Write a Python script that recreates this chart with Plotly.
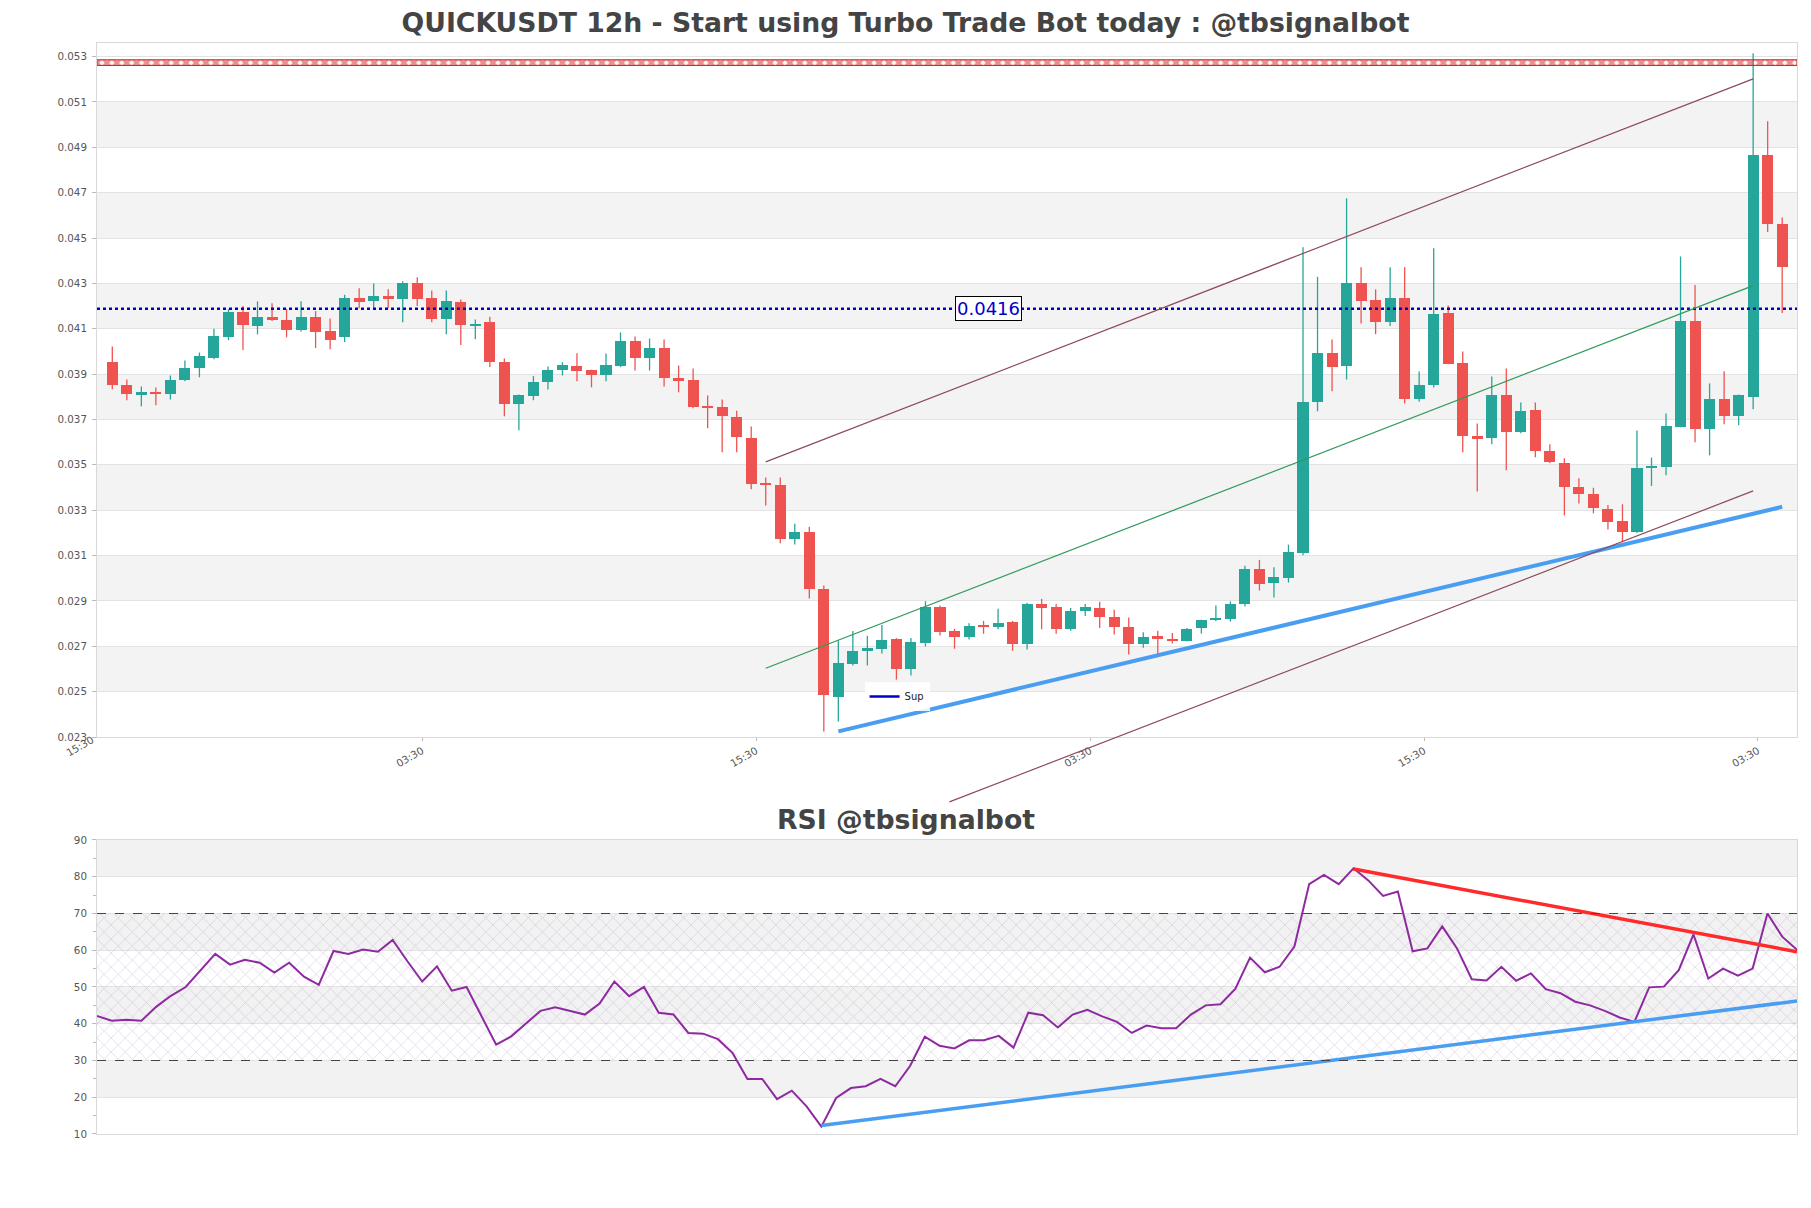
import pandas as pd
import plotly.graph_objects as go

# ---------------- data ----------------
open_ = [0.03954, 0.03854, 0.03811, 0.03822, 0.03811, 0.03873, 0.03926, 0.03973, 0.04063, 0.04173,
         0.04112, 0.04154, 0.04137, 0.04093, 0.04150, 0.04088, 0.04063, 0.04234, 0.04221, 0.04243,
         0.04231, 0.04300, 0.04234, 0.04143, 0.04216, 0.04116, 0.04128, 0.03954, 0.03770, 0.03803,
         0.03864, 0.03916, 0.03938, 0.03920, 0.03895, 0.03938, 0.04048, 0.03973, 0.04013, 0.03881,
         0.03872, 0.03761, 0.03753, 0.03713, 0.03620, 0.03421, 0.03413, 0.03171, 0.03205, 0.02953,
         0.02478, 0.02622, 0.02681, 0.02689, 0.02733, 0.02602, 0.02716, 0.02875, 0.02768, 0.02743,
         0.02796, 0.02783, 0.02808, 0.02708, 0.02887, 0.02874, 0.02778, 0.02856, 0.02870, 0.02830,
         0.02787, 0.02712, 0.02746, 0.02733, 0.02725, 0.02781, 0.02814, 0.02822, 0.02886, 0.03042,
         0.02977, 0.03003, 0.03112, 0.03775, 0.03991, 0.03935, 0.04300, 0.04225, 0.04128, 0.04234,
         0.03792, 0.03850, 0.04168, 0.03947, 0.03629, 0.03617, 0.03806, 0.03644, 0.03744, 0.03560,
         0.03510, 0.03404, 0.03373, 0.03307, 0.03251, 0.03202, 0.03489, 0.03489, 0.03666, 0.04134,
         0.03657, 0.03792, 0.03714, 0.03801, 0.04867, 0.04560]
high_ = [0.04022, 0.03876, 0.03845, 0.03841, 0.03894, 0.03960, 0.03995, 0.04100, 0.04187, 0.04200,
         0.04221, 0.04213, 0.04187, 0.04221, 0.04178, 0.04145, 0.04250, 0.04279, 0.04300, 0.04274,
         0.04310, 0.04327, 0.04269, 0.04269, 0.04229, 0.04141, 0.04153, 0.03969, 0.03810, 0.03892,
         0.03934, 0.03953, 0.03992, 0.03920, 0.03991, 0.04084, 0.04066, 0.04057, 0.04053, 0.03938,
         0.03925, 0.03806, 0.03788, 0.03739, 0.03669, 0.03444, 0.03444, 0.03240, 0.03227, 0.02968,
         0.02725, 0.02767, 0.02746, 0.02794, 0.02736, 0.02736, 0.02899, 0.02880, 0.02777, 0.02802,
         0.02812, 0.02865, 0.02812, 0.02892, 0.02909, 0.02886, 0.02869, 0.02886, 0.02896, 0.02861,
         0.02827, 0.02762, 0.02768, 0.02759, 0.02781, 0.02817, 0.02880, 0.02898, 0.03055, 0.03081,
         0.03049, 0.03148, 0.04459, 0.04329, 0.04053, 0.04675, 0.04371, 0.04274, 0.04371, 0.04371,
         0.03912, 0.04455, 0.04203, 0.04000, 0.03682, 0.03889, 0.03925, 0.03775, 0.03775, 0.03591,
         0.03529, 0.03441, 0.03399, 0.03323, 0.03326, 0.03651, 0.03532, 0.03726, 0.04419, 0.04293,
         0.03859, 0.03913, 0.03810, 0.05315, 0.05015, 0.04591]
low_ = [0.03833, 0.03785, 0.03758, 0.03763, 0.03788, 0.03869, 0.03886, 0.03966, 0.04050, 0.04006,
        0.04075, 0.04134, 0.04062, 0.04088, 0.04015, 0.04010, 0.04041, 0.04190, 0.04185, 0.04190,
        0.04129, 0.04200, 0.04129, 0.04076, 0.04028, 0.04054, 0.03931, 0.03714, 0.03653, 0.03785,
        0.03832, 0.03894, 0.03869, 0.03842, 0.03869, 0.03931, 0.03916, 0.03916, 0.03845, 0.03820,
        0.03750, 0.03661, 0.03555, 0.03555, 0.03392, 0.03321, 0.03154, 0.03149, 0.02911, 0.02324,
        0.02368, 0.02615, 0.02615, 0.02668, 0.02553, 0.02571, 0.02699, 0.02747, 0.02689, 0.02730,
        0.02755, 0.02775, 0.02680, 0.02686, 0.02775, 0.02755, 0.02769, 0.02833, 0.02781, 0.02752,
        0.02664, 0.02694, 0.02666, 0.02712, 0.02721, 0.02756, 0.02811, 0.02809, 0.02875, 0.02946,
        0.02915, 0.02981, 0.03101, 0.03736, 0.03825, 0.03876, 0.04123, 0.04076, 0.04112, 0.03770,
        0.03778, 0.03841, 0.03944, 0.03555, 0.03383, 0.03591, 0.03476, 0.03639, 0.03533, 0.03507,
        0.03277, 0.03330, 0.03286, 0.03215, 0.03159, 0.03199, 0.03407, 0.03454, 0.03666, 0.03600,
        0.03542, 0.03679, 0.03675, 0.03745, 0.04527, 0.04170]
close_ = [0.03851, 0.03811, 0.03819, 0.03811, 0.03876, 0.03929, 0.03978, 0.04070, 0.04176, 0.04116,
          0.04150, 0.04137, 0.04093, 0.04150, 0.04085, 0.04050, 0.04234, 0.04218, 0.04243, 0.04235,
          0.04304, 0.04231, 0.04143, 0.04221, 0.04116, 0.04122, 0.03953, 0.03770, 0.03810, 0.03867,
          0.03920, 0.03942, 0.03913, 0.03895, 0.03942, 0.04048, 0.03973, 0.04013, 0.03881, 0.03869,
          0.03756, 0.03753, 0.03714, 0.03622, 0.03414, 0.03410, 0.03171, 0.03205, 0.02951, 0.02483,
          0.02627, 0.02678, 0.02693, 0.02728, 0.02600, 0.02719, 0.02875, 0.02765, 0.02743, 0.02790,
          0.02783, 0.02803, 0.02708, 0.02887, 0.02871, 0.02778, 0.02856, 0.02874, 0.02827, 0.02787,
          0.02708, 0.02742, 0.02730, 0.02725, 0.02778, 0.02817, 0.02825, 0.02887, 0.03042, 0.02973,
          0.03006, 0.03117, 0.03777, 0.03991, 0.03931, 0.04300, 0.04222, 0.04128, 0.04234, 0.03792,
          0.03850, 0.04163, 0.03944, 0.03626, 0.03613, 0.03806, 0.03644, 0.03739, 0.03560, 0.03511,
          0.03401, 0.03370, 0.03308, 0.03246, 0.03202, 0.03488, 0.03495, 0.03670, 0.04134, 0.03657,
          0.03792, 0.03714, 0.03806, 0.04867, 0.04560, 0.04372]

rsi = [42.1, 40.8, 41.1, 40.8, 44.6, 47.6, 50.0, 54.6, 59.0, 56.1,
       57.4, 56.6, 53.9, 56.6, 52.8, 50.6, 59.8, 59.0, 60.2, 59.6,
       62.8, 57.0, 51.5, 55.6, 49.0, 50.0, 42.0, 34.3, 36.5, 40.0,
       43.5, 44.5, 43.5, 42.5, 45.5, 51.5, 47.5, 50.0, 43.0, 42.5,
       37.5, 37.3, 35.8, 32.0, 25.0, 25.0, 19.5, 21.8, 17.5, 12.0,
       19.8, 22.5, 23.0, 25.0, 23.0, 28.5, 36.5, 34.0, 33.3, 35.5,
       35.5, 36.7, 33.5, 43.0, 42.3, 39.0, 42.5, 43.8, 42.0, 40.5,
       37.5, 39.5, 38.8, 38.8, 42.5, 45.0, 45.3, 49.5, 58.0, 54.0,
       55.5, 61.0, 78.0, 80.5, 78.0, 82.3, 79.0, 74.8, 76.0, 59.7,
       60.5, 66.5, 60.5, 52.1, 51.8, 55.5, 51.7, 53.7, 49.4, 48.3,
       46.0, 45.0, 43.5, 41.7, 40.5, 49.9, 50.1, 54.6, 64.3, 52.3,
       55.0, 53.1, 55.0, 70.0, 63.7, 60.1]

price_ticks = [0.023, 0.025, 0.027, 0.029, 0.031, 0.033, 0.035, 0.037, 0.039,
               0.041, 0.043, 0.045, 0.047, 0.049, 0.051, 0.053]
rsi_ticks = [10, 20, 30, 40, 50, 60, 70, 80, 90]

sup_level = 0.04188          # dotted blue line
sup_label = "0.0416"
resist_band = (0.05261, 0.05286)

# trend lines: (candle index, value)
sup_trend = [(50, 0.02325), (115, 0.03315)]
chan_upper = [(45, 0.03513), (113, 0.05202)]
chan_mid = [(45, 0.02603), (113, 0.04290)]
chan_lower = [(57.65, 0.02014), (113, 0.03385)]
rsi_sup = [(49, 12.3), (115, 46.2)]
rsi_res = [(85, 82.1), (115, 59.6)]

# ---------------- time axis ----------------
base = pd.Timestamp("2024-05-01 11:30")
step = pd.Timedelta(hours=12)
N = len(close_)
dates = [base + i * step for i in range(N)]


def t(idx):
    return base + idx * step


x_lo = t(-1.054)
x_hi = t(N - 1 + 1.02)
tick0 = t(21 + 1 / 3)
dtick_ms = 23 * step.total_seconds() * 1000
first_tick = tick0 - pd.Timedelta(milliseconds=dtick_ms)
first_tick_paper = (first_tick - x_lo) / (x_hi - x_lo)

UP = "#26a69a"
DOWN = "#ef5350"

# layout geometry (page body has an 8px margin)
FIG_W, FIG_H = 1795, 1192
MAIN_DOM = [0.36389, 1.0]
RSI_DOM = [0.0, 0.26948]
Y_RANGE = [0.023, 0.0536]
EXT = 0.0643  # extra paper height below main plot where the lower channel line may run
ext_range0 = Y_RANGE[0] - (Y_RANGE[1] - Y_RANGE[0]) * EXT / (MAIN_DOM[1] - MAIN_DOM[0])

fig = go.Figure()

# background bands
shapes = []
for k in range(1, len(price_ticks) - 1, 2):
    shapes.append(dict(type="rect", xref="x domain", yref="y", x0=0, x1=1,
                       y0=price_ticks[k], y1=price_ticks[k + 1],
                       fillcolor="#f3f3f3", line_width=0, layer="below"))
for k in range(1, len(rsi_ticks) - 1, 2):
    shapes.append(dict(type="rect", xref="x2 domain", yref="y2", x0=0, x1=1,
                       y0=rsi_ticks[k], y1=rsi_ticks[k + 1],
                       fillcolor="#f2f2f2", line_width=0, layer="below"))
for lvl in (30, 70):
    shapes.append(dict(type="line", xref="x2 domain", yref="y2", x0=0, x1=1,
                       y0=lvl, y1=lvl, line=dict(color="#444", width=1.2, dash="dash"),
                       layer="above"))

# candles: wicks + bodies
for is_up, col in ((True, UP), (False, DOWN)):
    wx, wy = [], []
    bx, by, bb = [], [], []
    for d, o, h, l, c in zip(dates, open_, high_, low_, close_):
        if (c >= o) != is_up:
            continue
        wx += [d, d, None]
        wy += [l, h, None]
        bx.append(d)
        by.append(max(abs(c - o), 0.00003))
        bb.append(min(o, c))
    fig.add_trace(go.Scatter(x=wx, y=wy, mode="lines", line=dict(color=col, width=1.3),
                             showlegend=False, hoverinfo="skip", xaxis="x", yaxis="y"))
    fig.add_trace(go.Bar(x=bx, y=by, base=bb, marker=dict(color=col, line_width=0),
                         width=0.76 * step.total_seconds() * 1000, showlegend=False,
                         xaxis="x", yaxis="y"))

# resistance hatched band
fig.add_trace(go.Scatter(x=[x_lo, x_hi, x_hi, x_lo, x_lo],
                         y=[resist_band[0], resist_band[0], resist_band[1], resist_band[1], resist_band[0]],
                         mode="lines", fill="toself", fillcolor="rgba(0,0,0,0)",
                         fillpattern=dict(shape="x", fgcolor="#d81e1e", size=7, solidity=0.7,
                                          bgcolor="rgba(0,0,0,0)"),
                         line=dict(color="#d81e1e", width=1), showlegend=False, hoverinfo="skip"))

# support dotted line (+ solid legend handle)
fig.add_trace(go.Scatter(x=[x_lo, x_hi], y=[sup_level, sup_level], mode="lines",
                         line=dict(color="#0000c8", width=2.6, dash="dot"), name="Sup",
                         showlegend=False))
fig.add_trace(go.Scatter(x=[None], y=[None], mode="lines",
                         line=dict(color="#0000c8", width=2.5), name="Sup", showlegend=True))

# channel lines
for pts, col, w in ((chan_upper, "#8c4a5e", 1.2), (chan_mid, "#2e9a5a", 1.2),
                    (sup_trend, "#4a9ef2", 4)):
    fig.add_trace(go.Scatter(x=[t(p[0]) for p in pts], y=[p[1] for p in pts], mode="lines",
                             line=dict(color=col, width=w), showlegend=False, hoverinfo="skip"))
# lower channel line runs past the bottom of the price panel: same scale, taller clip area
fig.add_trace(go.Scatter(x=[t(p[0]) for p in chan_lower], y=[p[1] for p in chan_lower],
                         mode="lines", line=dict(color="#8c4a5e", width=1.2), showlegend=False,
                         hoverinfo="skip", xaxis="x", yaxis="y3"))

# RSI hatch 30..70
fig.add_trace(go.Scatter(x=[dates[0], dates[-1], dates[-1], dates[0], dates[0]],
                         y=[30, 30, 70, 70, 30], mode="lines", fill="toself",
                         fillcolor="rgba(0,0,0,0)",
                         fillpattern=dict(shape="x", fgcolor="rgba(150,120,180,0.75)", size=10,
                                          solidity=0.12, bgcolor="rgba(0,0,0,0)"),
                         line=dict(width=0), showlegend=False, hoverinfo="skip",
                         xaxis="x2", yaxis="y2"))
fig.add_trace(go.Scatter(x=dates, y=rsi, mode="lines", line=dict(color="#8e2aa0", width=2),
                         showlegend=False, xaxis="x2", yaxis="y2"))
for pts, col in ((rsi_sup, "#4a9ef2"), (rsi_res, "#ff2a2a")):
    fig.add_trace(go.Scatter(x=[dates[p[0]] for p in pts], y=[p[1] for p in pts], mode="lines",
                             line=dict(color=col, width=3.5), showlegend=False,
                             xaxis="x2", yaxis="y2"))

FONT = "DejaVu Sans"
TICKF = dict(family=FONT, size=10.3, color="#555")
frame = dict(showline=True, mirror=True, linecolor="#d9d9d9", linewidth=1, zeroline=False)

fig.update_layout(
    width=FIG_W, height=FIG_H,
    margin=dict(l=89, r=6, t=35, b=66),
    plot_bgcolor="rgba(0,0,0,0)", paper_bgcolor="white",
    barmode="overlay", bargap=0,
    font=dict(family=FONT, color="#444"),
    title=dict(text="<b>QUICKUSDT 12h - Start using Turbo Trade Bot today : @tbsignalbot</b>",
               x=(905.5 - 8) / FIG_W, xref="container", xanchor="center",
               y=1 - 15 / FIG_H, yref="container",
               yanchor="middle", font=dict(family=FONT, size=26.7, color="#444")),
    xaxis=dict(domain=[0, 1], anchor="y", type="date", range=[x_lo, x_hi], showgrid=False,
               tick0=tick0, dtick=dtick_ms, tickformat="%H:%M",
               tickangle=-30, tickfont=TICKF, ticks="outside", ticklen=3, tickcolor="#bbb",
               **frame),
    yaxis=dict(domain=MAIN_DOM, anchor="x", range=Y_RANGE, tickvals=price_ticks,
               tickformat=".3f", gridcolor="#e3e3e3", tickfont=TICKF, ticks="outside",
               ticklen=4, tickcolor="#bbb", ticklabelstandoff=3, **frame),
    yaxis3=dict(domain=[MAIN_DOM[0] - EXT, MAIN_DOM[1]], anchor="x",
                range=[ext_range0, Y_RANGE[1]], visible=False, showgrid=False, zeroline=False),
    xaxis2=dict(domain=[0, 1], anchor="y2", type="date", range=[dates[0], dates[-1]],
                showgrid=False, showticklabels=False, **frame),
    yaxis2=dict(domain=RSI_DOM, anchor="x2", range=[10, 90], tickvals=rsi_ticks,
                gridcolor="#e3e3e3", tickfont=TICKF, ticks="outside", ticklen=4,
                tickcolor="#bbb", ticklabelstandoff=3,
                minor=dict(dtick=5, ticks="outside", ticklen=3, tickcolor="#bbb",
                           showgrid=False), **frame),
    legend=dict(x=0.4515, y=0.4143, xanchor="left", yanchor="top", itemwidth=30,
                bgcolor="rgba(255,255,255,0.85)", font=dict(family=FONT, size=10, color="#222")),
    shapes=shapes,
    annotations=[
        dict(x=t(60.35), y=sup_level, xref="x", yref="y", text=sup_label, showarrow=False,
             font=dict(family=FONT, size=18, color="#0000cc"), bgcolor="white",
             bordercolor="black", borderwidth=1, borderpad=1),
        dict(x=(905.5 - 97) / 1700, y=0.2887, xref="paper", yref="paper",
             text="<b>RSI @tbsignalbot</b>", showarrow=False, yanchor="middle",
             font=dict(family=FONT, size=26.7, color="#444")),
        # first time label sits just left of the visible range
        dict(x=first_tick_paper, y=MAIN_DOM[0], xref="paper", yref="paper",
             text=first_tick.strftime("%H:%M"),
             showarrow=False, textangle=-30, xanchor="center", yanchor="middle",
             xshift=-8.6, yshift=-9, font=TICKF),
    ],
)

fig.write_html("out.html")
